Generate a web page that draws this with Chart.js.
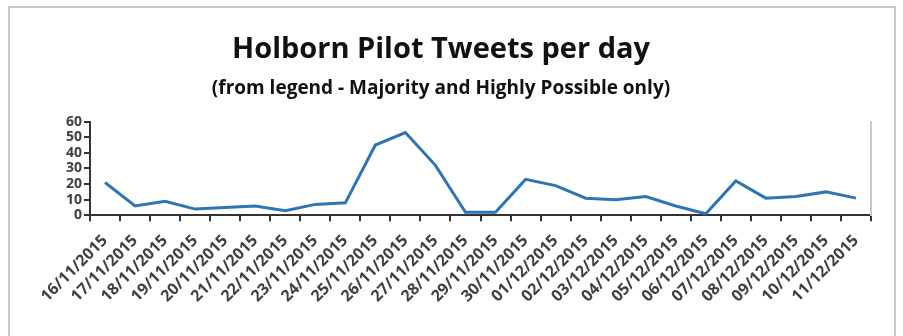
<!DOCTYPE html>
<html>
<head>
<meta charset="utf-8">
<script src="https://cdn.jsdelivr.net/npm/chart.js@4.4.1/dist/chart.umd.min.js"></script>
<style>
  html, body { margin: 0; padding: 0; background: #fff; }
  body { width: 903px; height: 336px; overflow: hidden; position: relative; }
  /* moldura cinza à volta do gráfico */
  .frame {
    position: absolute; left: 8px; top: 6px; width: 888px; height: 360px;
    border: 2px solid #c8c8c8; box-sizing: border-box;
  }
  .wrap { position: absolute; left: 0; top: 0; width: 882px; height: 336px; }
</style>
</head>
<body>
<div class="frame"></div>
<div class="wrap"><canvas id="myChart" width="882" height="336"></canvas></div>
<script>
// Dias do piloto (16/11/2015 a 11/12/2015)
const dias = [
    '16/11/2015', '17/11/2015', '18/11/2015', '19/11/2015', '20/11/2015',
    '21/11/2015', '22/11/2015', '23/11/2015', '24/11/2015', '25/11/2015',
    '26/11/2015', '27/11/2015', '28/11/2015', '29/11/2015', '30/11/2015',
    '01/12/2015', '02/12/2015', '03/12/2015', '04/12/2015', '05/12/2015',
    '06/12/2015', '07/12/2015', '08/12/2015', '09/12/2015', '10/12/2015',
    '11/12/2015'
];

// Tweets por dia (Majority e Highly Possible)
const tweets = [
    21, 6, 9, 4, 5, 6, 3, 7, 8, 45,
    53, 32, 2, 2, 23, 19, 11, 10, 12, 6,
    1, 22, 11, 12, 15, 11
];

const yTicks = [0, 10, 20, 30, 40, 50, 60];

const corTexto = '#404040';
const corEixo = '#333333';

const ctx = document.getElementById('myChart').getContext('2d');
const myChart = new Chart(ctx, {
    type: 'line',
    data: {
        labels: dias,
        datasets: [{
            label: 'Tweets',
            data: tweets,
            borderColor: '#2e75b6',
            borderWidth: 3,
            pointRadius: 0,
            tension: 0,
            fill: false
        }]
    },
    options: {
        responsive: false,
        animation: false,
        layout: {
            padding: { top: 32, right: 0, bottom: 20, left: 0 }
        },
        plugins: {
            legend: { display: false },
            tooltip: { enabled: false },
            title: {
                display: true,
                text: 'Holborn Pilot Tweets per day',
                color: '#111',
                font: { family: 'Open Sans', size: 29, weight: 'bold' },
                padding: { top: 0, bottom: 10 }
            },
            subtitle: {
                display: true,
                text: '(from legend - Majority and Highly Possible only)',
                color: '#111',
                font: { family: 'Open Sans', size: 19, weight: 'bold' },
                padding: { top: 0, bottom: 22 }
            }
        },
        scales: {
            x: {
                offset: true,
                grid: {
                    display: true,
                    offset: true,
                    drawOnChartArea: false,
                    color: corEixo,
                    lineWidth: 2,
                    tickLength: 6
                },
                border: { display: true, color: corEixo, width: 2 },
                ticks: {
                    autoSkip: false,
                    maxRotation: 45,
                    minRotation: 45,
                    color: corTexto,
                    padding: 10,
                    font: { family: 'Open Sans', size: 16, weight: 'bold' }
                }
            },
            y: {
                min: 0,
                max: 60,
                afterBuildTicks: (axis) => {
                    axis.ticks = yTicks.map(v => ({ value: v }));
                },
                afterFit: (axis) => { axis.width = 90; },
                grid: {
                    display: true,
                    drawOnChartArea: false,
                    color: corEixo,
                    lineWidth: 2,
                    tickLength: 6
                },
                border: { display: true, color: corEixo, width: 2 },
                ticks: {
                    autoSkip: false,
                    color: corTexto,
                    padding: 2,
                    font: { family: 'Open Sans', size: 14, weight: 'bold' }
                }
            },
            y2: {
                position: 'right',
                min: 0,
                max: 60,
                afterFit: (axis) => { axis.width = 11; },
                grid: { display: false, drawTicks: false },
                border: { display: true, color: '#c8c8c8', width: 2 },
                ticks: { display: false }
            }
        }
    }
});
</script>
</body>
</html>
